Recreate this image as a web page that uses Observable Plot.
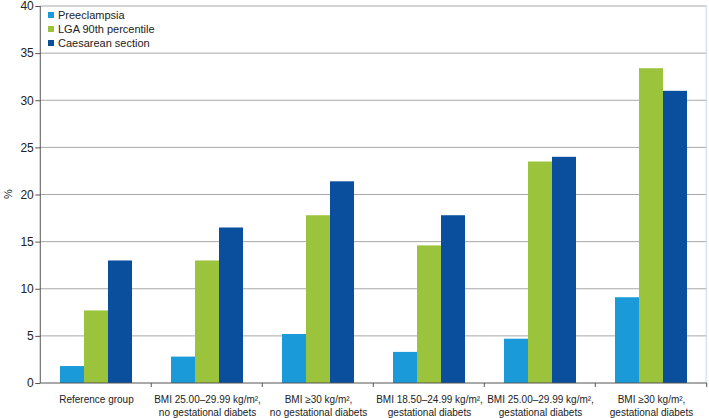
<!DOCTYPE html>
<html>
<head>
<meta charset="utf-8">
<script src="https://cdn.jsdelivr.net/npm/d3@7"></script>
<script src="https://cdn.jsdelivr.net/npm/@observablehq/plot@0.6"></script>
<style>
  body { margin: 0; background: #fff; }
  #wrap { position: relative; width: 709px; height: 418px; font-family: "Liberation Sans", Arial, sans-serif; }
  #legend { position: absolute; left: 48px; top: 8px; font-size: 11px; color: #222; line-height: 14px; }
  #legend .item { display: flex; align-items: center; }
  #legend .sw { width: 6px; height: 6px; margin-right: 4px; display: inline-block; }
</style>
</head>
<body>
<div id="wrap"><div id="legend"></div></div>
<script>
const groups = [
  "Reference group",
  "BMI 25.00–29.99 kg/m²,\nno gestational diabets",
  "BMI ≥30 kg/m²,\nno gestational diabets",
  "BMI 18.50–24.99 kg/m²,\ngestational diabets",
  "BMI 25.00–29.99 kg/m²,\ngestational diabets",
  "BMI ≥30 kg/m²,\ngestational diabets"
];
const seriesNames = ["Preeclampsia", "LGA 90th percentile", "Caesarean section"];
const preeclampsia = [1.8, 2.8, 5.2, 3.3, 4.7, 9.1];
const lga = [7.7, 13.0, 17.8, 14.6, 23.5, 33.4];
const caesarean = [13.0, 16.5, 21.4, 17.8, 24.0, 31.0];
const colors = ["#1a9ad8", "#9cc33c", "#0a4f9e"];
const yTicks = [0, 5, 10, 15, 20, 25, 30, 35, 40];

const seriesValues = [preeclampsia, lga, caesarean];
const rows = [];
groups.forEach((g, i) => {
  seriesNames.forEach((s, j) => rows.push({group: g, series: s, value: seriesValues[j][i]}));
});

const W = 709, H = 418, ML = 39, MR = 1, MT = 6, MB = 35;
const PI = 0.336, PO = 0.168;
const step = (W - ML - MR) / (groups.length - PI + 2 * PO);
const gap = PO * step; // half of the space between two groups

const chart = Plot.plot({
  width: W,
  height: H,
  marginLeft: ML,
  marginRight: MR,
  marginTop: MT,
  marginBottom: MB,
  style: {fontFamily: "Liberation Sans, Arial, sans-serif", fontSize: "11px", color: "#222", background: "white"},
  fx: {domain: groups, paddingInner: PI, paddingOuter: PO, label: null, axis: null},
  x: {domain: seriesNames, padding: 0, axis: null},
  y: {domain: [0, 40], axis: null},
  color: {domain: seriesNames, range: colors},
  marks: [
    Plot.barY(rows, {fx: "group", x: "series", y: "value", fill: "series"}),
    Plot.axisY(yTicks, {anchor: "left", dx: -gap, tickSize: 5, tickPadding: 2, fontSize: 12, stroke: "#555", label: null}),
    Plot.text(["%"], {fx: [groups[0]], frameAnchor: "left", dx: -(gap + 32), dy: 4, rotate: -90, fontSize: 11}),
    Plot.axisFx({anchor: "bottom", tickSize: 0, tickPadding: 10, fontSize: 10, lineHeight: 1.3, label: null})
  ]
});

document.getElementById("wrap").prepend(chart);

// gridlines, axis lines and group boundary ticks, from the library's scales
const fx = chart.scale("fx");
const y = chart.scale("y");
const bounds = groups.map(g => fx.apply(g) - gap);
bounds.push(fx.apply(groups[groups.length - 1]) + fx.bandwidth + gap);
const xL = bounds[0], xR = bounds[bounds.length - 1];
const svg = d3.select(chart);
const y0 = y.apply(0);
const grid = svg.insert("g", "g").attr("stroke", "#a8a8a8");
grid.selectAll("line").data(yTicks.filter(d => d > 0)).join("line")
  .attr("x1", xL).attr("x2", xR).attr("y1", d => y.apply(d)).attr("y2", d => y.apply(d));
svg.append("line").attr("x1", xR - 0.5).attr("x2", xR - 0.5).attr("y1", y.apply(40)).attr("y2", y0).attr("stroke", "#c4dcf2");
svg.append("line").attr("x1", xL).attr("x2", xR).attr("y1", y0).attr("y2", y0).attr("stroke", "#555");
svg.append("line").attr("x1", xL).attr("x2", xL).attr("y1", y.apply(40)).attr("y2", y0).attr("stroke", "#555");
svg.selectAll("line.bt").data(bounds.slice(1)).join("line").attr("class", "bt")
  .attr("x1", d => d).attr("x2", d => d).attr("y1", y0).attr("y2", y0 + 4).attr("stroke", "#555");

const legend = document.getElementById("legend");
seriesNames.forEach((s, i) => {
  const it = document.createElement("div");
  it.className = "item";
  it.innerHTML = `<span class="sw" style="background:${colors[i]}"></span><span>${s}</span>`;
  legend.appendChild(it);
});
</script>
</body>
</html>
